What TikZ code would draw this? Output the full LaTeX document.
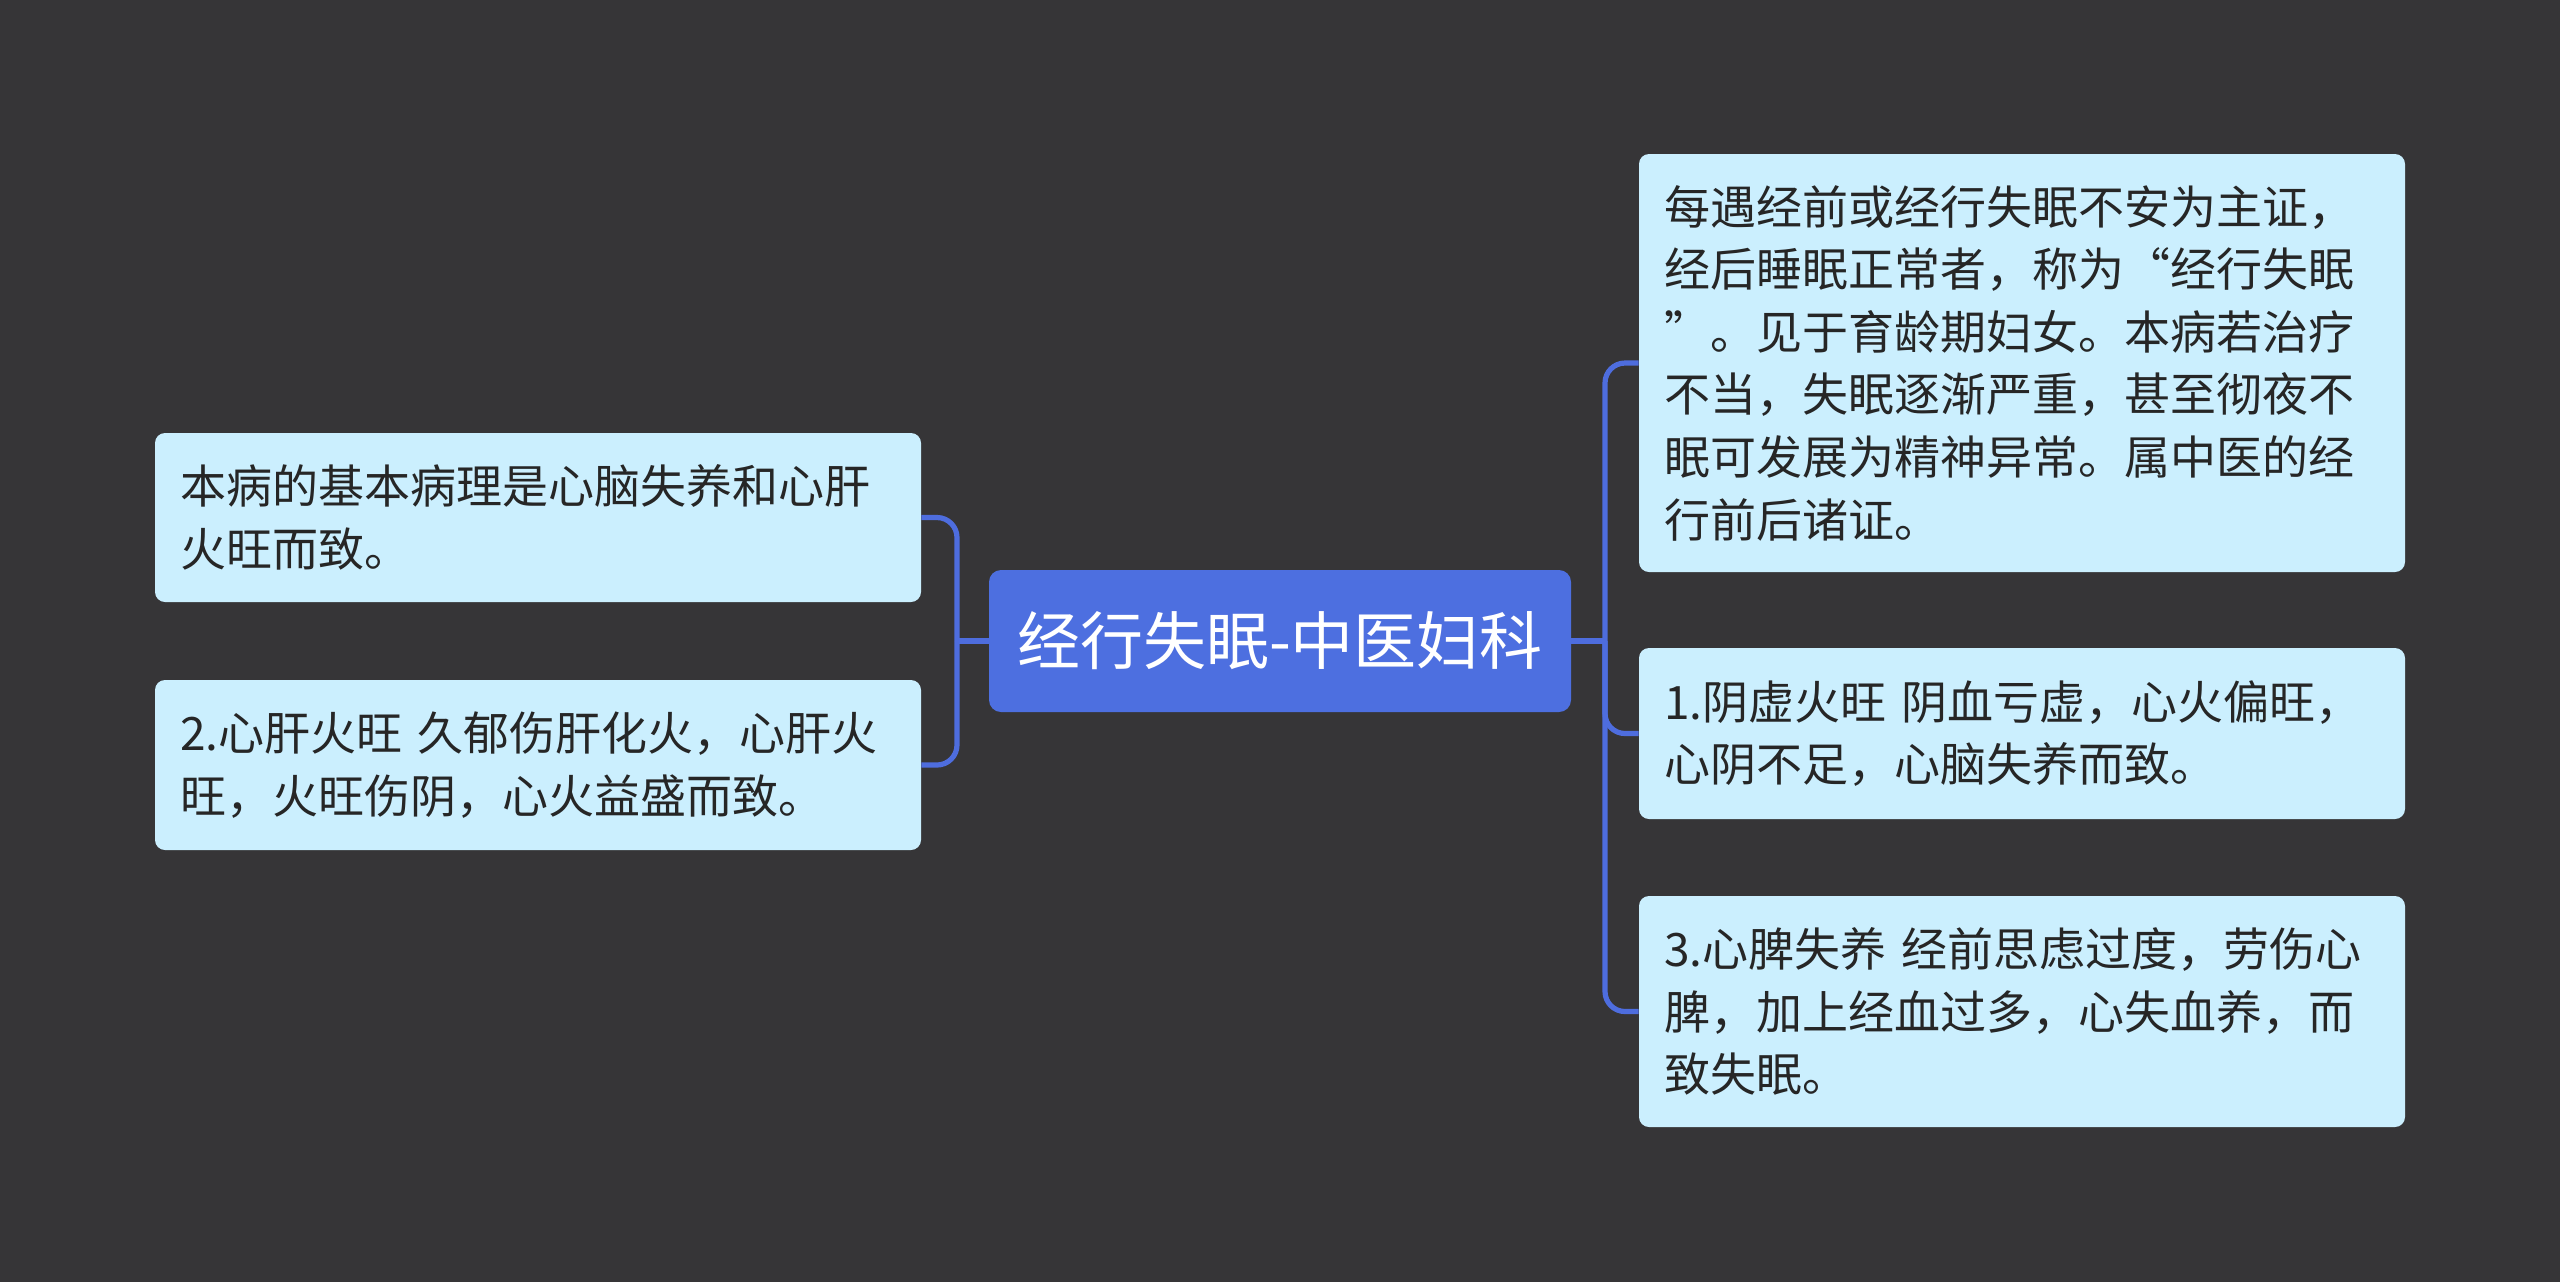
\documentclass[tikz,border=0pt]{standalone}
\usepackage{fontspec}
\newfontfamily\cjk{Noto Sans CJK SC}
\definecolor{bgc}{HTML}{363537}
\definecolor{mainc}{HTML}{4D6FE0}
\definecolor{subc}{HTML}{CBEFFE}
\definecolor{txtc}{HTML}{262626}
\definecolor{linec}{HTML}{4E6DDE}
\begin{document}
\begin{tikzpicture}[x=0.5pt,y=-0.5pt,
  rootbox/.style={fill=mainc, rounded corners=6pt, text=white, inner sep=0pt,
    minimum width=291pt, minimum height=71pt,
    font=\cjk\fontsize{31.5pt}{38pt}\selectfont},
  leafbox/.style={fill=subc, rounded corners=5pt, text=txtc, inner xsep=12.5pt, inner ysep=0pt,
    text width=358pt, align=left, minimum width=383pt,
    font=\cjk\fontsize{23pt}{31.3pt}\selectfont},
  conn/.style={draw=linec, line width=2.6pt, rounded corners=10pt}]
\fill[bgc] (0,0) rectangle (2560,1282);
\useasboundingbox (0,0) rectangle (2560,1282);

\node[rootbox] (root) at (1280,641) {经行失眠-中医妇科};

\node[leafbox, minimum height=84.5pt] (l1) at (538,517.5) {本病的基本病理是心脑失养和心肝\\火旺而致。};
\node[leafbox, minimum height=85pt] (l2) at (538,765) {2.心肝火旺 久郁伤肝化火，心肝火\\旺，火旺伤阴，心火益盛而致。};

\node[leafbox, minimum height=209pt] (r1) at (2022,363) {每遇经前或经行失眠不安为主证，\\经后睡眠正常者，称为“经行失眠\\”。见于育龄期妇女。本病若治疗\\不当，失眠逐渐严重，甚至彻夜不\\眠可发展为精神异常。属中医的经\\行前后诸证。};
\node[leafbox, minimum height=85.5pt] (r2) at (2022,733.5) {1.阴虚火旺 阴血亏虚，心火偏旺，\\心阴不足，心脑失养而致。};
\node[leafbox, minimum height=115.5pt] (r3) at (2022,1011.5) {3.心脾失养 经前思虑过度，劳伤心\\脾，加上经血过多，心失血养，而\\致失眠。};

\coordinate (lj) at (957,641);
\coordinate (rj) at (1605,641);

\draw[conn] (root.west) -- (lj);
\draw[conn] (lj) |- (l1.east);
\draw[conn] (lj) |- (l2.east);
\draw[conn] (root.east) -- (rj);
\draw[conn] (rj) |- (r1.west);
\draw[conn] (rj) |- (r2.west);
\draw[conn] (rj) |- (r3.west);
\end{tikzpicture}
\end{document}
